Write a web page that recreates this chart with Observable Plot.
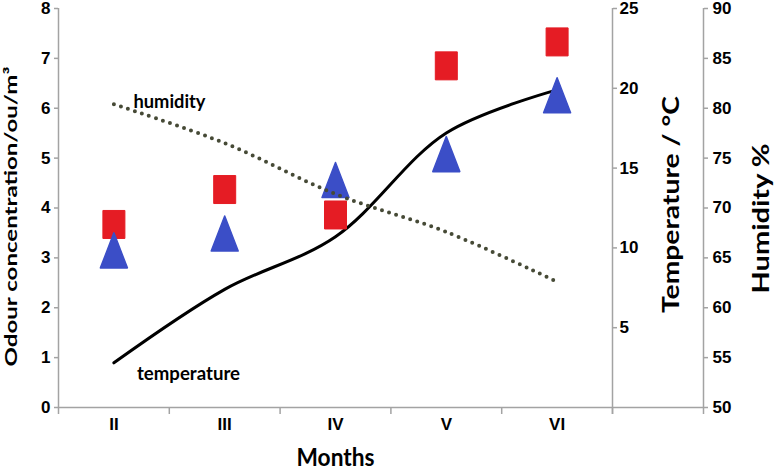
<!DOCTYPE html>
<html><head><meta charset="utf-8">
<script src="https://cdn.jsdelivr.net/npm/d3@7"></script>
<script src="https://cdn.jsdelivr.net/npm/@observablehq/plot@0.6"></script>
<style>body{margin:0;background:#fff} #chart svg{display:block}</style>
</head><body><div id="chart"></div>
<script>
const months = ["II", "III", "IV", "V", "VI"];
const odourSquares = [3.67, 4.37, 3.86, 6.85, 7.33];
const odourTriangles = [3.15, 3.49, 4.56, 5.08, 6.26];
const temperature = [2.8, 7.4, 10.7, 17.2, 19.9];
const humidity = [80.4, 76.5, 71.4, 67.6, 62.6];
const odourTicks = [0, 1, 2, 3, 4, 5, 6, 7, 8];
const temperatureTicks = [5, 10, 15, 20, 25];
const humidityTicks = [50, 55, 60, 65, 70, 75, 80, 85, 90];

const yTitle = "Odour concentration/ou/m³";
const tempTitle = "Temperature / °C";
const humTitle = "Humidity %";
const xTitle = "Months";
const humLabel = "humidity";
const tempLabel = "temperature";

const ODOUR_MAX = 8, TEMP_MAX = 25, HUM_MIN = 50, HUM_MAX = 90;
const fromTemp = t => t * ODOUR_MAX / TEMP_MAX;
const toTemp = v => v * TEMP_MAX / ODOUR_MAX;
const fromHum = h => (h - HUM_MIN) * ODOUR_MAX / (HUM_MAX - HUM_MIN);
const toHum = v => v * (HUM_MAX - HUM_MIN) / ODOUR_MAX + HUM_MIN;

const rows = months.map((m, i) => ({i, month: m, sq: odourSquares[i], tri: odourTriangles[i], temp: temperature[i], hum: humidity[i]}));
const idx = months.map((_, i) => i);
const edges = d3.range(-0.5, months.length, 1);
const last = months.length - 0.5;

const gray = "#a3a3a3";
const red = "#e51c24";
const blue = "#3b4ec7";
const tickFont = "'Liberation Sans', Arial, sans-serif";
const titleFont = "Lato, 'Open Sans', sans-serif";

const squareSym = {draw(ctx) { ctx.moveTo(-11, -14); ctx.lineTo(11, -14); ctx.lineTo(11, 14); ctx.lineTo(-11, 14); ctx.closePath(); }};
const triSym = {draw(ctx) { ctx.moveTo(0, -17.5); ctx.lineTo(13.5, 17.5); ctx.lineTo(-13.5, 17.5); ctx.closePath(); }};

const axisText = {fontSize: 17, fontWeight: "bold", fontFamily: tickFont, fill: "black", stroke: gray, strokeWidth: 1.5, label: null};
const titleText = {fontWeight: "bold", fontFamily: titleFont, fill: "black", textAnchor: "middle"};

const chart = Plot.plot({
  width: 774, height: 476,
  marginLeft: 58, marginRight: 162, marginTop: 8, marginBottom: 69,
  x: {type: "linear", domain: [-0.5, last], label: null},
  y: {domain: [0, ODOUR_MAX], label: null},
  style: {background: "white", color: "black", overflow: "visible"},
  marks: [
    Plot.ruleY([0], {stroke: gray, strokeWidth: 1.5, insetRight: -91}),
    Plot.ruleX([-0.5], {stroke: gray, strokeWidth: 1.5}),
    Plot.ruleX([last], {stroke: gray, strokeWidth: 1.5, insetBottom: -7}),
    Plot.ruleX([last], {stroke: gray, strokeWidth: 1.5, insetBottom: -7, dx: 91}),
    Plot.axisX(edges, {tickSize: 7, tickFormat: () => "", stroke: gray, strokeWidth: 1.5, label: null}),
    Plot.axisX(idx, {...axisText, tickSize: 0, tickPadding: 10, tickFormat: i => months[i]}),
    Plot.axisY(odourTicks, {...axisText, anchor: "left", tickSize: 4, tickPadding: 4, tickFormat: v => String(v)}),
    Plot.axisY(temperatureTicks.map(fromTemp), {...axisText, anchor: "right", tickSize: 4, tickPadding: 3, tickFormat: v => String(Math.round(toTemp(v)))}),
    Plot.axisY(humidityTicks.map(fromHum), {...axisText, anchor: "right", tickSize: 4, tickPadding: 5, dx: 91, tickFormat: v => String(Math.round(toHum(v)))}),
    Plot.line(rows, {x: "i", y: d => fromTemp(d.temp), stroke: "black", strokeWidth: 3, curve: "catmull-rom"}),
    Plot.dot(rows, {x: "i", y: "sq", symbol: squareSym, fill: red, stroke: red, strokeWidth: 1, strokeLinejoin: "round"}),
    Plot.dot(rows, {x: "i", y: "tri", symbol: triSym, fill: blue, stroke: blue, strokeWidth: 1.5, strokeLinejoin: "round"}),
    Plot.line(rows, {x: "i", y: d => fromHum(d.hum), stroke: "#464a36", strokeWidth: 4, strokeDasharray: "0 7.4", strokeLinecap: "round", curve: "catmull-rom"}),
    Plot.text([humLabel], {...titleText, frameAnchor: "top-left", dx: 111, dy: 86, fontSize: 19}),
    Plot.text([tempLabel], {...titleText, frameAnchor: "top-left", dx: 130, dy: 358, fontSize: 19}),
    Plot.text([yTitle], {...titleText, frameAnchor: "left", dx: -47, dy: 8.5, rotate: -90, fontSize: 17}),
    Plot.text([tempTitle], {...titleText, frameAnchor: "right", dx: 59, dy: -3.5, rotate: -90, fontSize: 22}),
    Plot.text([humTitle], {...titleText, frameAnchor: "right", dx: 149, dy: 10.5, rotate: -90, fontSize: 22}),
    Plot.text([xTitle], {...titleText, frameAnchor: "bottom", dy: 58, fontSize: 25})
  ]
});

const stretch = {[yTitle]: 300, [tempTitle]: 217, [humTitle]: 150, [xTitle]: 78, [humLabel]: 72, [tempLabel]: 103};
chart.querySelectorAll("text").forEach(t => {
  const L = stretch[t.textContent];
  if (L) { t.setAttribute("textLength", L); t.setAttribute("lengthAdjust", "spacingAndGlyphs"); }
});
document.getElementById("chart").append(chart);
</script>
</body></html>
